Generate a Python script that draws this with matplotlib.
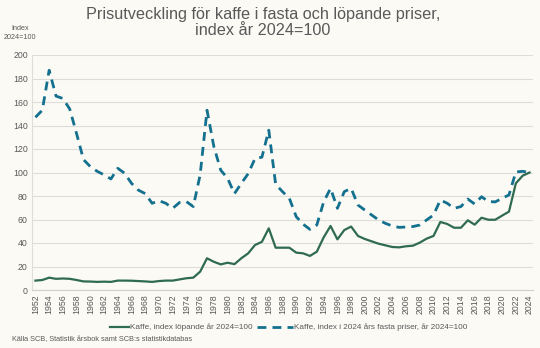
import matplotlib
matplotlib.use("Agg")
import matplotlib.pyplot as plt
from matplotlib.lines import Line2D

plt.rcParams['font.family'] = ['Liberation Sans', 'DejaVu Sans']

years = list(range(1952, 2025))
lopande = [8, 8.5, 10.5, 9.5, 9.8, 9.5, 8.5, 7.3, 7.2, 6.9, 7.1, 6.9, 8.0, 8.0, 7.9, 7.6, 7.3, 6.9,
           7.6, 8.0, 8.0, 9.0, 10.0, 10.5, 15.6, 27, 24, 21.8, 23.2, 22, 27, 31.2, 38.3, 41, 52.5,
           36, 36, 36, 31.8, 31.2, 29, 32.6, 44.8, 54.5, 43.1, 51, 54, 46, 43.4, 41.4, 39.4, 38,
           36.6, 36.3, 37.2, 37.7, 40.3, 43.7, 46, 57.9, 56.2, 53, 53, 59.3, 55.6, 61.5, 59.8,
           59.8, 63.3, 66.7, 90.8, 97.3, 100]
fasta = [147, 153, 187, 165, 163, 154, 133, 111, 105, 101, 98, 94.5, 103.6, 99.3, 90.8, 85, 82, 73.8,
         76, 73.8, 69.5, 74.5, 75.2, 71, 98, 153, 122, 102, 95, 82, 90.8, 99, 112, 113, 136,
         90, 83.7, 78, 62.4, 56, 51.6, 55.3, 75, 86.5, 69.5, 83.7, 86.5, 72.3, 68, 63.8, 59.6,
         56.7, 54.5, 53.3, 53.6, 54, 55.3, 59.6, 63.8, 76.6, 73.8, 69.5, 71, 77.4, 73.2, 79.4,
         75.2, 75, 78, 80.9, 100.5, 101, 100]
xticks = list(range(1952, 2025, 2))
yticks = list(range(0, 201, 20))
labels = ["Kaffe, index löpande år 2024=100",
          "Kaffe, index i 2024 års fasta priser, år 2024=100"]

bg = "#FBFAF5"
green = "#2F6B4E"
blue = "#13708E"
txt = "#595959"

W, H = 540, 348
fig = plt.figure(figsize=(5.4, 3.48), dpi=100, facecolor=bg)
ax = fig.add_axes([32/W, 1-290/H, (533-32)/W, (290-55)/H], facecolor=bg)

ax.plot(years, lopande, color=green, lw=1.6, solid_joinstyle="round")
ax.plot(years, fasta, color=blue, lw=2.0, dashes=(3.2, 2.2))

ax.set_xlim(1951.5, 2024.5)
ax.set_ylim(0, 200)
ax.set_yticks(yticks)
ax.set_xticks(xticks)
ax.set_xticklabels([str(y) for y in xticks], rotation=90, fontsize=6.3, color=txt)
ax.set_yticklabels([str(v) for v in yticks], fontsize=6.3, color=txt)
ax.grid(axis="y", color="#DDDDDA", lw=0.8)
ax.set_axisbelow(True)
for s in ["top", "right"]:
    ax.spines[s].set_visible(False)
ax.spines["left"].set_color("#DDDDDA")
ax.spines["bottom"].set_color("#D0D0D0")
ax.tick_params(axis="both", length=0, pad=3)

fig.text(263/W, 1-7/H, "Prisutveckling för kaffe i fasta och löpande priser,\nindex år 2024=100",
         ha="center", va="top", fontsize=11.7, color=txt, linespacing=1.06)
fig.text(20/W, 1-33/H, "Index\n2024=100", ha="center", va="center", fontsize=5.2, color=txt,
         linespacing=1.4)
fig.text(12/W, 1-340/H, "Källa SCB, Statistik årsbok samt SCB:s statistikdatabas",
         ha="left", va="center", fontsize=5.3, color=txt)

# legend drawn manually
ly = 1 - 327/H
fig.add_artist(Line2D([110/W, 129/W], [ly, ly], color=green, lw=1.6, transform=fig.transFigure))
fig.text(130/W, ly, labels[0], ha="left", va="center", fontsize=5.9, color=txt)
fig.add_artist(Line2D([257/W, 293/W], [ly, ly], color=blue, lw=2.0, dashes=(3.2, 2.2),
                      transform=fig.transFigure))
fig.text(294/W, ly, labels[1], ha="left", va="center", fontsize=5.85, color=txt)

fig.savefig("out.png", dpi=100, facecolor=bg)
